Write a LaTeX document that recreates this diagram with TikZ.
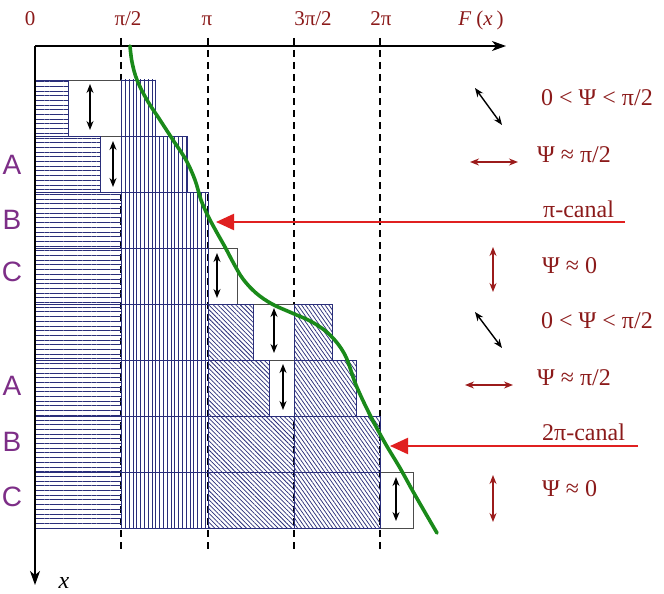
\documentclass[tikz,border=0pt]{standalone}
\usepackage{fontspec}
\setmainfont{Liberation Serif}
\newfontfamily\abcfont{Liberation Sans}
\usetikzlibrary{patterns.meta,arrows.meta}
\definecolor{navy}{HTML}{2A2E7A}
\definecolor{lblred}{HTML}{8B1A1A}
\definecolor{abccol}{HTML}{7D2E87}
\definecolor{canalred}{HTML}{E02020}
\definecolor{darkred}{HTML}{9B1B1B}
\definecolor{curvegreen}{HTML}{1A8A1A}
\begin{document}
\begin{tikzpicture}[x=1pt,y=-1pt,
  hh/.style={pattern={Lines[angle=0,distance=4.7pt,line width=1.0pt]},pattern color=navy,draw=navy,line width=0.8pt},
  vh/.style={pattern={Lines[angle=90,distance=3.8pt,line width=0.9pt]},pattern color=navy,draw=navy,line width=0.8pt},
  dl/.style={pattern={Lines[angle=-45,distance=3.2pt,line width=0.75pt]},pattern color=navy,draw=navy,line width=0.8pt},
  dr/.style={pattern={Lines[angle=-55,distance=3.2pt,line width=0.75pt]},pattern color=navy,draw=navy,line width=0.8pt},
  rowbox/.style={draw=black!70,line width=0.9pt},
  dashline/.style={black,line width=1.4pt,dash pattern=on 7pt off 5pt},
  axisline/.style={black,line width=1.4pt,-{Stealth[length=14pt,width=10pt,inset=4pt]}},
  canal/.style={canalred,line width=2.2pt,-{Triangle[length=18pt,width=16pt]}},
  blkdbl/.style={black,line width=1.4pt,{Stealth[length=9pt,width=7pt]}-{Stealth[length=9pt,width=7pt]}},
  reddbl/.style={darkred,line width=1.4pt,{Stealth[length=9pt,width=7pt]}-{Stealth[length=9pt,width=7pt]}},
  toplbl/.style={lblred,font=\fontsize{21}{24}\selectfont,inner sep=0pt,anchor=base},
  rlbl/.style={lblred,font=\fontsize{24}{28}\selectfont,inner sep=0pt,anchor=base west},
  abc/.style={abccol,font=\abcfont\fontsize{28}{32}\selectfont,inner sep=0pt},
  curve/.style={curvegreen,line width=3.6pt,line cap=round}]
\useasboundingbox (0,0) rectangle (664,594);
% dashed guide lines
\foreach \xx/\n in {121/a,208/b,294/c,380/d}{
  \coordinate (dt\n) at (\xx,38);
  \coordinate (db\n) at (\xx,550);
  \draw[dashline] (dt\n) -- (db\n);
}
% rows: outlines and white gaps
\draw[rowbox] (35,80) rectangle (155,136);
\draw[rowbox] (35,136) rectangle (187,192);
\draw[rowbox] (35,192) rectangle (208,248);
\draw[rowbox,fill=white] (208,248) rectangle (237,304);
\draw[rowbox,fill=white] (253,304) rectangle (294,360);
\draw[rowbox,fill=white] (269,360) rectangle (294,416);
\draw[rowbox,fill=white] (380,472) rectangle (413,528);
\draw[rowbox,fill=white] (68,80) rectangle (121,136);
\draw[rowbox,fill=white] (100,136) rectangle (121,192);
% horizontal hatch
\path[hh] (35,80) rectangle (68,136);
\path[hh] (35,136) rectangle (100,192);
\foreach \ya/\yb in {192/248,248/304,304/360,360/416,416/472,472/528}
  \path[hh] (35,\ya) rectangle (121,\yb);
% vertical hatch
\path[vh] (121,80) rectangle (155,136);
\path[vh] (121,136) rectangle (187,192);
\foreach \ya/\yb in {192/248,248/304,304/360,360/416,416/472,472/528}
  \path[vh] (121,\ya) rectangle (208,\yb);
% diagonal hatch
\path[dl] (208,304) rectangle (253,360);
\path[dl] (208,360) rectangle (269,416);
\path[dl] (208,416) rectangle (294,472);
\path[dl] (208,472) rectangle (294,528);
\path[dr] (294,304) rectangle (332,360);
\path[dr] (294,360) rectangle (356,416);
\path[dr] (294,416) rectangle (380,472);
\path[dr] (294,472) rectangle (380,528);
% double arrows in the gaps
\foreach \xx/\ya/\yb/\n in {90/84/130/g1,113/141/187/g2,217/253/298/g3,274/308/353/g4,283/364/410/g5,396/477/521/g6}{
  \coordinate (\n t) at (\xx,\ya);
  \coordinate (\n b) at (\xx,\yb);
  \draw[blkdbl] (\n t) -- (\n b);
}
% axes
\coordinate (O) at (35,46);
\coordinate (Xend) at (506,46);
\coordinate (Yend) at (35,585);
\draw[axisline] (O) -- (Xend);
\draw[axisline] (O) -- (Yend);
% curve
\draw[curve] plot[smooth,tension=0.6] coordinates {(130,46) (132,62) (137,80) (147,100) (160,120) (173,140) (186,160) (195,180) (201,200) (208,216) (216,231) (225,247) (234,264) (243,279) (256,293) (272,304) (292,313) (312,322) (330,335) (345,355) (356,385) (370,415) (385,443) (400,468) (415,495) (437,533)};
% canal arrows
\coordinate (c1s) at (625,222);
\coordinate (c1e) at (216,222);
\draw[canal] (c1s) -- (c1e);
\coordinate (c2s) at (638,446);
\coordinate (c2e) at (390,446);
\draw[canal] (c2s) -- (c2e);
% legend arrows
\coordinate (k1a) at (475,88);  \coordinate (k1b) at (502,125);
\draw[blkdbl] (k1a) -- (k1b);
\coordinate (k2a) at (470,162); \coordinate (k2b) at (518,162);
\draw[reddbl] (k2a) -- (k2b);
\coordinate (k3a) at (493,247); \coordinate (k3b) at (493,292);
\draw[reddbl] (k3a) -- (k3b);
\coordinate (k4a) at (475,312); \coordinate (k4b) at (502,348);
\draw[blkdbl] (k4a) -- (k4b);
\coordinate (k5a) at (465,385); \coordinate (k5b) at (513,385);
\draw[reddbl] (k5a) -- (k5b);
\coordinate (k6a) at (493,475); \coordinate (k6b) at (493,522);
\draw[reddbl] (k6a) -- (k6b);
% top labels
\node[toplbl] (t0) at (30,26) {0};
\node[toplbl] (t1) at (128,26) {π/2};
\node[toplbl] (t2) at (207,26) {π};
\node[toplbl] (t3) at (313,26) {3π/2};
\node[toplbl] (t4) at (381,26) {2π};
\node[toplbl] (tf) at (481,26) {\textit{F}\kern5pt(\textit{x}\kern4pt)};
\node[black,font=\fontsize{24}{28}\selectfont\itshape,inner sep=0pt,anchor=base] (xl) at (64,588) {x};
% right labels
\node[rlbl] (r1) at (541,105) {0 < Ψ < π/2};
\node[rlbl] (r2) at (537,162) {Ψ ≈ π/2};
\node[rlbl] (r3) at (543,217) {π-canal};
\node[rlbl] (r4) at (542,273) {Ψ ≈ 0};
\node[rlbl] (r5) at (541,328) {0 < Ψ < π/2};
\node[rlbl] (r6) at (537,385) {Ψ ≈ π/2};
\node[rlbl] (r7) at (542,440) {2π-canal};
\node[rlbl] (r8) at (542,496) {Ψ ≈ 0};
% A B C
\node[abc] (a1) at (12,165) {A};
\node[abc] (b1) at (12,220) {B};
\node[abc] (cc1) at (12,272) {C};
\node[abc] (a2) at (12,386) {A};
\node[abc] (b2) at (12,442) {B};
\node[abc] (cc2) at (12,497) {C};
\end{tikzpicture}
\end{document}
